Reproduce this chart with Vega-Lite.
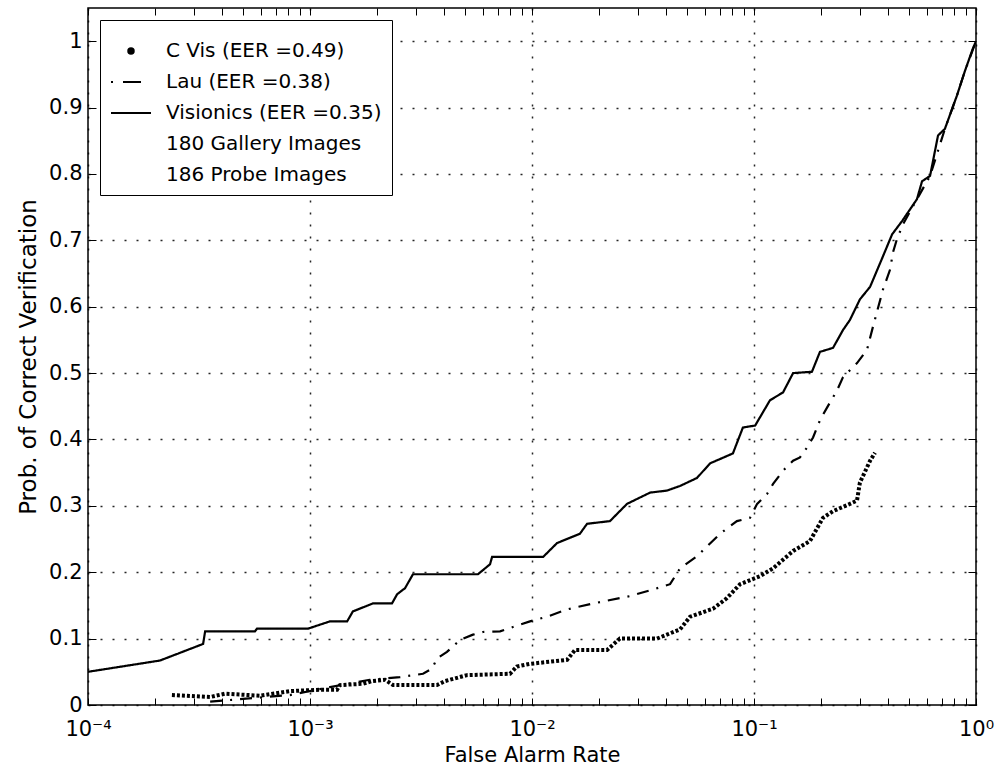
{
  "$schema": "https://vega.github.io/schema/vega-lite/v6.json",
  "autosize": "none",
  "padding": {"left": 88, "top": 8, "right": 28, "bottom": 66},
  "width": 888,
  "height": 697,
  "background": "white",
  "config": {
    "font": "DejaVu Sans",
    "view": {"stroke": "black", "strokeWidth": 1.5},
    "axis": {"labelColor": "black", "titleColor": "black", "tickColor": "black", "domain": false, "titleFontWeight": "normal"}
  },
  "datasets": {
    "curves": [
      {"series": "Visionics (EER =0.35)", "far": 0.0001, "pcv": 0.050},
      {"series": "Visionics (EER =0.35)", "far": 0.000211, "pcv": 0.067},
      {"series": "Visionics (EER =0.35)", "far": 0.00033, "pcv": 0.092},
      {"series": "Visionics (EER =0.35)", "far": 0.000337, "pcv": 0.111},
      {"series": "Visionics (EER =0.35)", "far": 0.000565, "pcv": 0.111},
      {"series": "Visionics (EER =0.35)", "far": 0.000577, "pcv": 0.115},
      {"series": "Visionics (EER =0.35)", "far": 0.000979, "pcv": 0.115},
      {"series": "Visionics (EER =0.35)", "far": 0.00123, "pcv": 0.126},
      {"series": "Visionics (EER =0.35)", "far": 0.00147, "pcv": 0.126},
      {"series": "Visionics (EER =0.35)", "far": 0.00156, "pcv": 0.141},
      {"series": "Visionics (EER =0.35)", "far": 0.00192, "pcv": 0.153},
      {"series": "Visionics (EER =0.35)", "far": 0.00234, "pcv": 0.153},
      {"series": "Visionics (EER =0.35)", "far": 0.00247, "pcv": 0.167},
      {"series": "Visionics (EER =0.35)", "far": 0.00268, "pcv": 0.176},
      {"series": "Visionics (EER =0.35)", "far": 0.00291, "pcv": 0.197},
      {"series": "Visionics (EER =0.35)", "far": 0.00571, "pcv": 0.197},
      {"series": "Visionics (EER =0.35)", "far": 0.00647, "pcv": 0.212},
      {"series": "Visionics (EER =0.35)", "far": 0.00661, "pcv": 0.223},
      {"series": "Visionics (EER =0.35)", "far": 0.01122, "pcv": 0.223},
      {"series": "Visionics (EER =0.35)", "far": 0.01297, "pcv": 0.244},
      {"series": "Visionics (EER =0.35)", "far": 0.01644, "pcv": 0.258},
      {"series": "Visionics (EER =0.35)", "far": 0.0177, "pcv": 0.273},
      {"series": "Visionics (EER =0.35)", "far": 0.02244, "pcv": 0.277},
      {"series": "Visionics (EER =0.35)", "far": 0.02679, "pcv": 0.303},
      {"series": "Visionics (EER =0.35)", "far": 0.03404, "pcv": 0.320},
      {"series": "Visionics (EER =0.35)", "far": 0.04055, "pcv": 0.323},
      {"series": "Visionics (EER =0.35)", "far": 0.04645, "pcv": 0.330},
      {"series": "Visionics (EER =0.35)", "far": 0.05534, "pcv": 0.342},
      {"series": "Visionics (EER =0.35)", "far": 0.06339, "pcv": 0.364},
      {"series": "Visionics (EER =0.35)", "far": 0.08035, "pcv": 0.379},
      {"series": "Visionics (EER =0.35)", "far": 0.08913, "pcv": 0.418},
      {"series": "Visionics (EER =0.35)", "far": 0.1012, "pcv": 0.421},
      {"series": "Visionics (EER =0.35)", "far": 0.118, "pcv": 0.459},
      {"series": "Visionics (EER =0.35)", "far": 0.1352, "pcv": 0.471},
      {"series": "Visionics (EER =0.35)", "far": 0.150, "pcv": 0.500},
      {"series": "Visionics (EER =0.35)", "far": 0.1824, "pcv": 0.502},
      {"series": "Visionics (EER =0.35)", "far": 0.1982, "pcv": 0.532},
      {"series": "Visionics (EER =0.35)", "far": 0.227, "pcv": 0.538},
      {"series": "Visionics (EER =0.35)", "far": 0.2518, "pcv": 0.565},
      {"series": "Visionics (EER =0.35)", "far": 0.2704, "pcv": 0.580},
      {"series": "Visionics (EER =0.35)", "far": 0.2999, "pcv": 0.611},
      {"series": "Visionics (EER =0.35)", "far": 0.3334, "pcv": 0.630},
      {"series": "Visionics (EER =0.35)", "far": 0.3811, "pcv": 0.676},
      {"series": "Visionics (EER =0.35)", "far": 0.4188, "pcv": 0.709},
      {"series": "Visionics (EER =0.35)", "far": 0.4645, "pcv": 0.729},
      {"series": "Visionics (EER =0.35)", "far": 0.542, "pcv": 0.762},
      {"series": "Visionics (EER =0.35)", "far": 0.5715, "pcv": 0.789},
      {"series": "Visionics (EER =0.35)", "far": 0.6209, "pcv": 0.797},
      {"series": "Visionics (EER =0.35)", "far": 0.6745, "pcv": 0.858},
      {"series": "Visionics (EER =0.35)", "far": 0.7244, "pcv": 0.868},
      {"series": "Visionics (EER =0.35)", "far": 0.8204, "pcv": 0.918},
      {"series": "Visionics (EER =0.35)", "far": 0.8913, "pcv": 0.955},
      {"series": "Visionics (EER =0.35)", "far": 0.9683, "pcv": 0.989},
      {"series": "Visionics (EER =0.35)", "far": 1.0, "pcv": 1.0},
      {"series": "Lau (EER =0.38)", "far": 0.000355, "pcv": 0.005},
      {"series": "Lau (EER =0.38)", "far": 0.000813, "pcv": 0.015},
      {"series": "Lau (EER =0.38)", "far": 0.00123, "pcv": 0.027},
      {"series": "Lau (EER =0.38)", "far": 0.00186, "pcv": 0.038},
      {"series": "Lau (EER =0.38)", "far": 0.00254, "pcv": 0.042},
      {"series": "Lau (EER =0.38)", "far": 0.00323, "pcv": 0.047},
      {"series": "Lau (EER =0.38)", "far": 0.00355, "pcv": 0.055},
      {"series": "Lau (EER =0.38)", "far": 0.00373, "pcv": 0.070},
      {"series": "Lau (EER =0.38)", "far": 0.00414, "pcv": 0.080},
      {"series": "Lau (EER =0.38)", "far": 0.00474, "pcv": 0.098},
      {"series": "Lau (EER =0.38)", "far": 0.00542, "pcv": 0.106},
      {"series": "Lau (EER =0.38)", "far": 0.00601, "pcv": 0.110},
      {"series": "Lau (EER =0.38)", "far": 0.00718, "pcv": 0.111},
      {"series": "Lau (EER =0.38)", "far": 0.00979, "pcv": 0.126},
      {"series": "Lau (EER =0.38)", "far": 0.01169, "pcv": 0.133},
      {"series": "Lau (EER =0.38)", "far": 0.01439, "pcv": 0.144},
      {"series": "Lau (EER =0.38)", "far": 0.01884, "pcv": 0.153},
      {"series": "Lau (EER =0.38)", "far": 0.02761, "pcv": 0.164},
      {"series": "Lau (EER =0.38)", "far": 0.03508, "pcv": 0.174},
      {"series": "Lau (EER =0.38)", "far": 0.04188, "pcv": 0.182},
      {"series": "Lau (EER =0.38)", "far": 0.04645, "pcv": 0.206},
      {"series": "Lau (EER =0.38)", "far": 0.05534, "pcv": 0.224},
      {"series": "Lau (EER =0.38)", "far": 0.07031, "pcv": 0.258},
      {"series": "Lau (EER =0.38)", "far": 0.08375, "pcv": 0.277},
      {"series": "Lau (EER =0.38)", "far": 0.09594, "pcv": 0.282},
      {"series": "Lau (EER =0.38)", "far": 0.1033, "pcv": 0.303},
      {"series": "Lau (EER =0.38)", "far": 0.1146, "pcv": 0.318},
      {"series": "Lau (EER =0.38)", "far": 0.1219, "pcv": 0.333},
      {"series": "Lau (EER =0.38)", "far": 0.1352, "pcv": 0.353},
      {"series": "Lau (EER =0.38)", "far": 0.150, "pcv": 0.368},
      {"series": "Lau (EER =0.38)", "far": 0.1611, "pcv": 0.373},
      {"series": "Lau (EER =0.38)", "far": 0.1734, "pcv": 0.388},
      {"series": "Lau (EER =0.38)", "far": 0.1845, "pcv": 0.403},
      {"series": "Lau (EER =0.38)", "far": 0.1982, "pcv": 0.429},
      {"series": "Lau (EER =0.38)", "far": 0.2133, "pcv": 0.448},
      {"series": "Lau (EER =0.38)", "far": 0.2366, "pcv": 0.474},
      {"series": "Lau (EER =0.38)", "far": 0.2518, "pcv": 0.494},
      {"series": "Lau (EER =0.38)", "far": 0.2911, "pcv": 0.515},
      {"series": "Lau (EER =0.38)", "far": 0.3228, "pcv": 0.535},
      {"series": "Lau (EER =0.38)", "far": 0.3436, "pcv": 0.570},
      {"series": "Lau (EER =0.38)", "far": 0.3811, "pcv": 0.626},
      {"series": "Lau (EER =0.38)", "far": 0.4102, "pcv": 0.656},
      {"series": "Lau (EER =0.38)", "far": 0.4227, "pcv": 0.682},
      {"series": "Lau (EER =0.38)", "far": 0.4406, "pcv": 0.702},
      {"series": "Lau (EER =0.38)", "far": 0.4688, "pcv": 0.724},
      {"series": "Lau (EER =0.38)", "far": 0.542, "pcv": 0.762},
      {"series": "Lau (EER =0.38)", "far": 0.6209, "pcv": 0.797},
      {"series": "Lau (EER =0.38)", "far": 0.7244, "pcv": 0.868},
      {"series": "Lau (EER =0.38)", "far": 0.8204, "pcv": 0.918},
      {"series": "Lau (EER =0.38)", "far": 0.8913, "pcv": 0.955},
      {"series": "Lau (EER =0.38)", "far": 1.0, "pcv": 1.0}
    ],
    "cvis": [
      {"series": "C  Vis (EER =0.49)", "far": 0.0002388, "pcv": 0.015},
      {"series": "C  Vis (EER =0.49)", "far": 0.000355, "pcv": 0.012},
      {"series": "C  Vis (EER =0.49)", "far": 0.000414, "pcv": 0.017},
      {"series": "C  Vis (EER =0.49)", "far": 0.000596, "pcv": 0.014},
      {"series": "C  Vis (EER =0.49)", "far": 0.000813, "pcv": 0.021},
      {"series": "C  Vis (EER =0.49)", "far": 0.001109, "pcv": 0.023},
      {"series": "C  Vis (EER =0.49)", "far": 0.001324, "pcv": 0.023},
      {"series": "C  Vis (EER =0.49)", "far": 0.001365, "pcv": 0.030},
      {"series": "C  Vis (EER =0.49)", "far": 0.001734, "pcv": 0.032},
      {"series": "C  Vis (EER =0.49)", "far": 0.001901, "pcv": 0.036},
      {"series": "C  Vis (EER =0.49)", "far": 0.002178, "pcv": 0.038},
      {"series": "C  Vis (EER =0.49)", "far": 0.002366, "pcv": 0.030},
      {"series": "C  Vis (EER =0.49)", "far": 0.00373, "pcv": 0.030},
      {"series": "C  Vis (EER =0.49)", "far": 0.004055, "pcv": 0.036},
      {"series": "C  Vis (EER =0.49)", "far": 0.005093, "pcv": 0.045},
      {"series": "C  Vis (EER =0.49)", "far": 0.00796, "pcv": 0.047},
      {"series": "C  Vis (EER =0.49)", "far": 0.00855, "pcv": 0.058},
      {"series": "C  Vis (EER =0.49)", "far": 0.00979, "pcv": 0.062},
      {"series": "C  Vis (EER =0.49)", "far": 0.01439, "pcv": 0.068},
      {"series": "C  Vis (EER =0.49)", "far": 0.01563, "pcv": 0.083},
      {"series": "C  Vis (EER =0.49)", "far": 0.02178, "pcv": 0.083},
      {"series": "C  Vis (EER =0.49)", "far": 0.02489, "pcv": 0.100},
      {"series": "C  Vis (EER =0.49)", "far": 0.03656, "pcv": 0.100},
      {"series": "C  Vis (EER =0.49)", "far": 0.04645, "pcv": 0.114},
      {"series": "C  Vis (EER =0.49)", "far": 0.05152, "pcv": 0.133},
      {"series": "C  Vis (EER =0.49)", "far": 0.06531, "pcv": 0.145},
      {"series": "C  Vis (EER =0.49)", "far": 0.07551, "pcv": 0.161},
      {"series": "C  Vis (EER =0.49)", "far": 0.0865, "pcv": 0.182},
      {"series": "C  Vis (EER =0.49)", "far": 0.1064, "pcv": 0.194},
      {"series": "C  Vis (EER =0.49)", "far": 0.1219, "pcv": 0.206},
      {"series": "C  Vis (EER =0.49)", "far": 0.150, "pcv": 0.232},
      {"series": "C  Vis (EER =0.49)", "far": 0.1786, "pcv": 0.247},
      {"series": "C  Vis (EER =0.49)", "far": 0.2046, "pcv": 0.282},
      {"series": "C  Vis (EER =0.49)", "far": 0.227, "pcv": 0.292},
      {"series": "C  Vis (EER =0.49)", "far": 0.2704, "pcv": 0.303},
      {"series": "C  Vis (EER =0.49)", "far": 0.2911, "pcv": 0.308},
      {"series": "C  Vis (EER =0.49)", "far": 0.2999, "pcv": 0.335},
      {"series": "C  Vis (EER =0.49)", "far": 0.3334, "pcv": 0.368},
      {"series": "C  Vis (EER =0.49)", "far": 0.3508, "pcv": 0.380}
    ]
  },
  "layer": [
    {
      "data": {"name": "curves"},
      "mark": {"type": "line", "strokeWidth": 2.2, "clip": true},
      "encoding": {
        "x": {
          "field": "far", "type": "quantitative",
          "scale": {"type": "log", "domain": [0.0001, 1], "nice": false},
          "axis": {
            "orient": "bottom",
            "title": "False Alarm Rate",
            "titleFontSize": 21,
            "titlePadding": 5,
            "values": [0.0001,0.0002,0.0003,0.0004,0.0005,0.0006,0.0007,0.0008,0.0009,0.001,0.002,0.003,0.004,0.005,0.006,0.007,0.008,0.009,0.01,0.02,0.03,0.04,0.05,0.06,0.07,0.08,0.09,0.1,0.2,0.3,0.4,0.5,0.6,0.7,0.8,0.9,1],
            "labelExpr": "datum.value == 0.0001 ? '10⁻⁴' : datum.value == 0.001 ? '10⁻³' : datum.value == 0.01 ? '10⁻²' : datum.value == 0.1 ? '10⁻¹' : datum.value == 1 ? '10⁰' : ''",
            "labelFontSize": 21,
            "labelPadding": 20,
            "labelFlush": false,
            "labelOverlap": false,
            "tickSize": -7,
            "tickWidth": 1,
            "grid": true,
            "gridColor": "black",
            "gridDash": [2, 10],
            "gridWidth": 1.5,
            "gridOpacity": {"condition": {"test": "indexof([0.0001,0.001,0.01,0.1,1], datum.value) >= 0", "value": 0.85}, "value": 0}
          }
        },
        "y": {
          "field": "pcv", "type": "quantitative",
          "scale": {"domain": [0, 1.05], "nice": false, "zero": true},
          "axis": {
            "orient": "left",
            "title": "Prob. of Correct Verification",
            "titleFontSize": 23,
            "titlePadding": 8,
            "values": [0,0.1,0.2,0.3,0.4,0.5,0.6,0.7,0.8,0.9,1],
            "labelExpr": "datum.value == 0 ? '0' : datum.value == 1 ? '1' : format(datum.value, '.1f')",
            "labelFontSize": 21,
            "labelPadding": 14,
            "tickSize": -8,
            "grid": true,
            "gridColor": "black",
            "gridDash": [2, 10],
            "gridWidth": 1.5,
            "gridOpacity": 0.85
          }
        },
        "color": {
          "field": "series", "type": "nominal",
          "scale": {
            "domain": ["C  Vis (EER =0.49)", "Lau (EER =0.38)", "Visionics (EER =0.35)", "180 Gallery Images", "186 Probe Images"],
            "range": ["black", "black", "black", "transparent", "transparent"]
          },
          "legend": {
            "title": null,
            "orient": "top-left",
            "offset": 12,
            "padding": 10,
            "fillColor": "white",
            "strokeColor": "black",
            "labelFont": "DejaVu Sans",
            "labelFontSize": 20,
            "labelColor": "black",
            "labelLimit": 0,
            "labelOffset": 14,
            "rowPadding": 0,
            "symbolSize": 1600,
            "symbolType": "stroke",
            "symbolStrokeWidth": 2,
            "encode": {
              "symbols": {
                "update": {
                  "shape": {"signal": "datum.value === 'C  Vis (EER =0.49)' ? 'circle' : 'stroke'"},
                  "size": {"signal": "datum.value === 'C  Vis (EER =0.49)' ? 30 : 1600"},
                  "fill": {"signal": "datum.value === 'C  Vis (EER =0.49)' ? 'black' : 'transparent'"},
                  "strokeDash": {"signal": "datum.value === 'Lau (EER =0.38)' ? [2, 10, 18, 10] : []"},
                  "strokeWidth": {"value": 2}
                }
              }
            }
          }
        },
        "strokeDash": {
          "field": "series", "type": "nominal",
          "scale": {"domain": ["Lau (EER =0.38)", "Visionics (EER =0.35)"], "range": [[12, 8, 2, 8], [1, 0]]},
          "legend": null
        }
      }
    },
    {
      "data": {"name": "cvis"},
      "mark": {"type": "line", "strokeWidth": 4, "strokeDash": [3, 2], "clip": true},
      "encoding": {
        "x": {
          "field": "far", "type": "quantitative",
          "axis": {
            "orient": "top",
            "title": null,
            "labels": false,
            "grid": false,
            "values": [0.0001,0.0002,0.0003,0.0004,0.0005,0.0006,0.0007,0.0008,0.0009,0.001,0.002,0.003,0.004,0.005,0.006,0.007,0.008,0.009,0.01,0.02,0.03,0.04,0.05,0.06,0.07,0.08,0.09,0.1,0.2,0.3,0.4,0.5,0.6,0.7,0.8,0.9,1],
            "tickSize": -7
          }
        },
        "y": {
          "field": "pcv", "type": "quantitative",
          "axis": {
            "orient": "right",
            "title": null,
            "labels": false,
            "grid": false,
            "values": [0,0.1,0.2,0.3,0.4,0.5,0.6,0.7,0.8,0.9,1],
            "tickSize": -8
          }
        },
        "color": {"field": "series", "type": "nominal"}
      }
    }
  ],
  "resolve": {"axis": {"x": "independent", "y": "independent"}}
}
